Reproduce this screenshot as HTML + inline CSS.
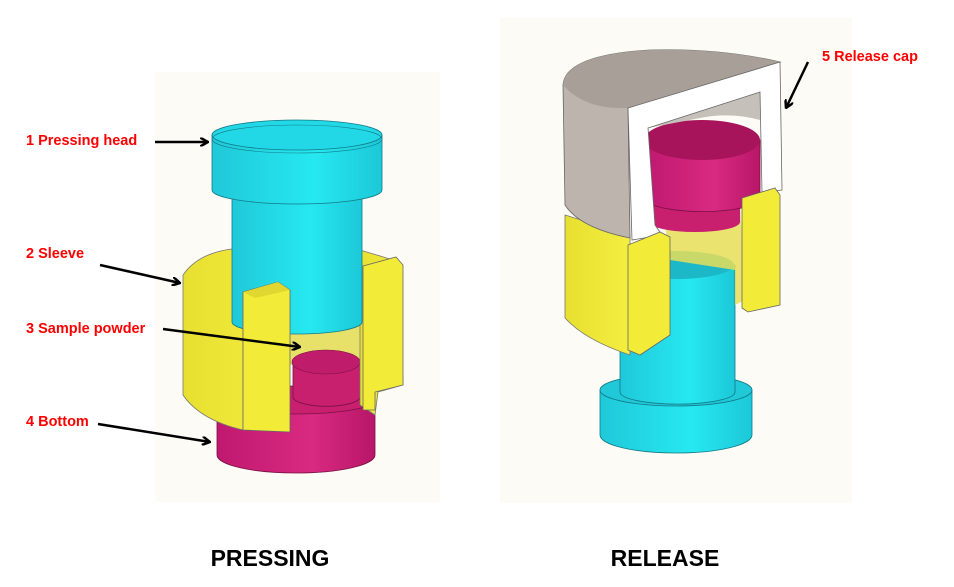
<!DOCTYPE html>
<html><head><meta charset="utf-8"><style>
html,body{margin:0;padding:0;background:#fff;}
svg{display:block;}
.l{font-family:"Liberation Sans",sans-serif;font-weight:bold;font-size:14.5px;fill:#f00;}
.t{font-family:"Liberation Sans",sans-serif;font-weight:bold;font-size:23px;fill:#000;}
</style></head><body>
<svg width="954" height="587" viewBox="0 0 954 587" xmlns="http://www.w3.org/2000/svg">
<defs>
<marker id="ah" markerWidth="9" markerHeight="9" refX="8" refY="4.5" orient="auto" markerUnits="userSpaceOnUse"><path d="M0,0 L8,4.5 L0,9" fill="none" stroke="#000" stroke-width="2.5"/></marker>
<linearGradient id="cy" x1="0" x2="1"><stop offset="0" stop-color="#20c8d8"/><stop offset="0.6" stop-color="#26e8f0"/><stop offset="1" stop-color="#1cc8d8"/></linearGradient>
<linearGradient id="mg" x1="0" x2="1"><stop offset="0" stop-color="#c01870"/><stop offset="0.6" stop-color="#d82a80"/><stop offset="1" stop-color="#b81668"/></linearGradient>
<linearGradient id="ye" x1="0" x2="1"><stop offset="0" stop-color="#e8e030"/><stop offset="1" stop-color="#f4ee40"/></linearGradient>
</defs>
<rect x="155" y="72" width="285" height="430" fill="#fcfbf5"/>
<rect x="500" y="18" width="352" height="485" fill="#fcfbf5"/>

<!-- LEFT -->
<path d="M217,400 L217,455 A79,18 0 0 0 375,455 L375,400 Z" fill="url(#mg)" stroke="#7a1044" stroke-width="0.8"/>
<ellipse cx="296" cy="400" rx="79" ry="14" fill="#c8206f" stroke="#7a1044" stroke-width="0.8"/>
<path d="M290,320 L290,365 L362,365 L362,320 Z" fill="#e4dc50" opacity="0.85"/>
<path d="M293,362 L293,398 A34,10 0 0 0 360,398 L360,362 Z" fill="#c8206f" stroke="#7a1044" stroke-width="0.8"/>
<ellipse cx="326" cy="362" rx="34" ry="12" fill="#c01c6c" stroke="#7a1044" stroke-width="0.6"/>
<path d="M183,275 Q200,250 243,248 L290,248 L290,290 L243,290 L243,430 Q200,420 183,395 Z" fill="url(#ye)" stroke="#777" stroke-width="0.8"/>
<path d="M360,250 L400,262 L403,385 L378,392 L375,415 L360,405 Z" fill="url(#ye)" stroke="#777" stroke-width="0.8"/>
<path d="M232,195 L232,322 A65,12 0 0 0 362,322 L362,195 Z" fill="url(#cy)" stroke="#127a88" stroke-width="0.8"/>
<path d="M212,135 L212,190 A85,14 0 0 0 382,190 L382,135 Z" fill="url(#cy)" stroke="#127a88" stroke-width="0.8"/>
<ellipse cx="297" cy="135" rx="85" ry="15" fill="#22d8e6" stroke="#127a88" stroke-width="0.8"/>
<ellipse cx="297" cy="139" rx="85" ry="14" fill="none" stroke="#127a88" stroke-width="0.6"/>
<path d="M243,292 L278,282 L290,290 L290,432 L243,430 Z" fill="#f2ec38" stroke="#666" stroke-width="0.8"/>
<path d="M243,292 L278,282 L290,290 L255,298 Z" fill="#e0d830"/>
<path d="M363,266 L396,257 L403,265 L403,385 L375,392 L375,410 L363,410 Z" fill="#f2ec38" stroke="#666" stroke-width="0.8"/>

<!-- RIGHT -->
<path d="M600,390 L600,435 A76,18 0 0 0 752,435 L752,390 Z" fill="url(#cy)" stroke="#127a88" stroke-width="0.8"/>
<ellipse cx="676" cy="390" rx="76" ry="16" fill="#20c8d8" stroke="#127a88" stroke-width="0.8"/>
<path d="M620,265 L620,392 A57,12 0 0 0 735,392 L735,265 Z" fill="url(#cy)" stroke="#127a88" stroke-width="0.8"/>
<ellipse cx="677" cy="265" rx="57" ry="14" fill="#1cb8c8"/>
<path d="M565,215 L630,235 L630,355 Q585,340 565,318 Z" fill="url(#ye)" stroke="#777" stroke-width="0.8"/>
<path d="M665,225 L740,200 L745,300 L735,305 L735,270 L670,260 Z" fill="#e6de58" opacity="0.85"/>
<path d="M650,195 L650,222 A45,10 0 0 0 740,222 L740,195 Z" fill="#c8206f"/>
<path d="M645,140 L645,200 A58,14 0 0 0 760,195 L760,140 Z" fill="url(#mg)" stroke="#7a1044" stroke-width="0.8"/>
<ellipse cx="702" cy="140" rx="58" ry="20" fill="#a8145c"/>
<path d="M563,85 Q565,55 650,50 Q720,48 780,62 L628,108 L630,238 Q580,228 565,205 Z" fill="#bdb5ad" stroke="#666" stroke-width="0.8"/>
<path d="M563,85 Q565,55 650,50 Q720,48 780,62 L628,108 Q585,110 563,85 Z" fill="#a8a098"/>
<path d="M648,128 L760,92 L760,120 Q730,112 700,118 L648,128 Z" fill="#c6c0ba"/>
<path d="M628,108 L780,62 L782,190 L762,192 L760,92 L648,128 L655,225 L662,235 L632,240 Z" fill="#fff" stroke="#666" stroke-width="0.8"/>
<path d="M628,245 L660,232 L670,237 L670,335 L640,355 L628,350 Z" fill="#f2ec38" stroke="#666" stroke-width="0.8"/>
<path d="M742,198 L775,188 L780,195 L780,305 L748,312 L742,308 Z" fill="#f2ec38" stroke="#666" stroke-width="0.8"/>

<text class="l" x="26" y="145">1 Pressing head</text>
<text class="l" x="26" y="258">2 Sleeve</text>
<text class="l" x="26" y="333">3 Sample powder</text>
<text class="l" x="26" y="426">4 Bottom</text>
<text class="l" x="822" y="61">5 Release cap</text>
<g stroke="#000" stroke-width="2.5" fill="none">
<line x1="155" y1="142" x2="208" y2="142" marker-end="url(#ah)"/>
<line x1="100" y1="265" x2="180" y2="283" marker-end="url(#ah)"/>
<line x1="163" y1="329" x2="300" y2="347" marker-end="url(#ah)"/>
<line x1="98" y1="424" x2="210" y2="442" marker-end="url(#ah)"/>
<line x1="808" y1="62" x2="786" y2="108" marker-end="url(#ah)"/>
</g>
<text class="t" x="270" y="566" text-anchor="middle">PRESSING</text>
<text class="t" x="665" y="566" text-anchor="middle">RELEASE</text>
</svg>
</body></html>
